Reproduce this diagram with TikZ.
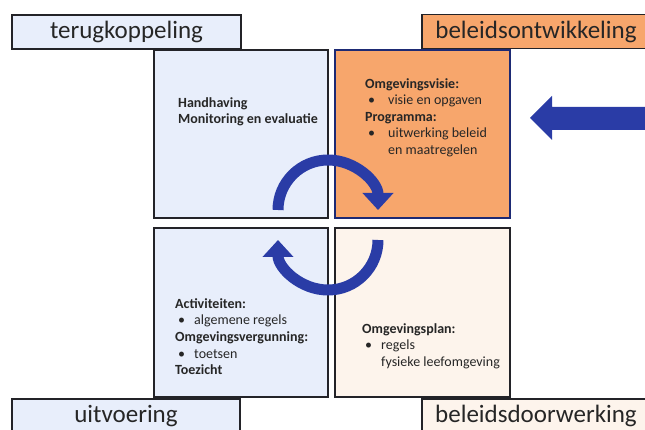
\documentclass[tikz,border=0pt]{standalone}
\usepackage{fontspec}
\setmainfont{Carlito}
\usetikzlibrary{arrows.meta, positioning}

\definecolor{quadblue}{RGB}{232,238,251}
\definecolor{quadorange}{RGB}{247,166,108}
\definecolor{quadpeach}{RGB}{253,244,236}
\definecolor{cycleblue}{RGB}{42,60,166}
\definecolor{framegray}{RGB}{35,35,40}

\tikzset{
  quad/.style={draw=framegray, line width=1.5pt, minimum width=174pt, minimum height=168pt, inner sep=0pt},
  phaselabel/.style={draw=framegray, line width=1.8pt, minimum height=34pt, inner sep=0pt,
    font=\fontsize{25}{30}\selectfont, text=black!85},
  quadtext/.style={anchor=north west, align=left, inner sep=0pt,
    font=\fontsize{14}{16.5}\selectfont, text=black!85},
  cyclearrow/.style={draw=cycleblue, line width=11pt, -{Triangle[width=30pt,length=17pt]}}
}
\newcommand{\itembul}[1][16pt]{\hspace*{3pt}\makebox[#1][l]{\textbullet}}
\newcommand{\itemgap}[1][19pt]{\hspace*{#1}}

\begin{document}
\begin{tikzpicture}[x=1pt,y=1pt]
\useasboundingbox (0,0) rectangle (645,430);

% quadrants
\node [quad, fill=quadblue] (handhaving) at (241,296) {};
\node [quad, fill=quadorange, draw=cycleblue!70!black, minimum width=175pt] (visie) at (422.5,296) {};
\node [quad, fill=quadblue, minimum height=169pt] (activiteiten) at (241,117.5) {};
\node [quad, fill=quadpeach, minimum width=175pt, minimum height=169pt] (plan) at (422.5,117.5) {};

% phase labels
\node [phaselabel, fill=quadblue, minimum width=229pt] (terug) at (126.5,398) {terugkoppeling};
\node [phaselabel, fill=quadorange, minimum width=228pt] (ontw) at (536,398.5) {beleidsontwikkeling};
\node [phaselabel, fill=quadblue, minimum width=228pt] (uitv) at (126,14) {uitvoering};
\node [phaselabel, fill=quadpeach, minimum width=228pt] (doorw) at (536,14) {beleidsdoorwerking};

% cycle
\coordinate (uppermid) at (328,220);
\coordinate (lowermid) at (328,190);
\draw [cyclearrow] ([shift={(180:50)}]uppermid) arc [start angle=180, end angle=0, radius=50];
\draw [cyclearrow] ([shift={(0:50)}]lowermid) arc [start angle=0, end angle=-180, radius=50];

% input arrow
\fill [cycleblue] (650,323) -- (552,323) -- (552,334) -- (530,312) -- (552,290) -- (552,300) -- (650,300) -- cycle;

% texts
\node [quadtext] (t1) at (178,333) {\textbf{Handhaving}\\ \textbf{Monitoring en evaluatie}};
\node [quadtext] (t2) at (365,352) {\textbf{Omgevingsvisie:}\\ \itembul[20pt]visie en opgaven\\ \textbf{Programma:}\\ \itembul[20pt]uitwerking beleid\\ \itemgap[23pt]en maatregelen};
\node [quadtext, font=\fontsize{14}{16.7}\selectfont] (t3) at (175,132) {\textbf{Activiteiten:}\\ \itembul algemene regels\\ \textbf{Omgevingsvergunning:}\\ \itembul toetsen\\ \textbf{Toezicht}};
\node [quadtext] (t4) at (362,107) {\textbf{Omgevingsplan:}\\ \itembul regels\\ \itemgap fysieke leefomgeving};
\end{tikzpicture}
\end{document}
